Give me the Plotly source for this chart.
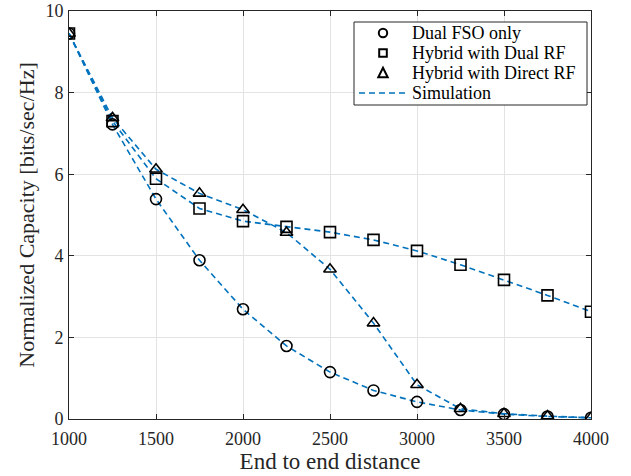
import plotly.graph_objects as go

# End-to-end distance (x) and normalized capacity for each scheme
distance = [1000, 1250, 1500, 1750, 2000, 2250, 2500, 2750, 3000, 3250, 3500, 3750, 4000]
dual_fso = [9.45, 7.22, 5.39, 3.89, 2.69, 1.79, 1.15, 0.70, 0.42, 0.22, 0.12, 0.06, 0.03]
hybrid_dual_rf = [9.45, 7.30, 5.89, 5.16, 4.85, 4.71, 4.58, 4.39, 4.12, 3.78, 3.41, 3.03, 2.63]
hybrid_direct_rf = [9.45, 7.38, 6.12, 5.53, 5.13, 4.57, 3.67, 2.35, 0.84, 0.25, 0.13, 0.07, 0.03]

x_ticks = [1000, 1500, 2000, 2500, 3000, 3500, 4000]
y_ticks = [0, 2, 4, 6, 8, 10]

series = [
    ("Dual FSO only", dual_fso, "circle-open"),
    ("Hybrid with Dual RF", hybrid_dual_rf, "square-open"),
    ("Hybrid with Direct RF", hybrid_direct_rf, "triangle-up-open"),
]
sim_label = "Simulation"

LINE_BLUE = "#0072BD"
AXIS_GREY = "#262626"
FONT = "Liberation Serif"

W, H = 631, 476
M_L, M_R, M_T, M_B = 69, 40, 11, 57
PLOT_W = W - M_L - M_R
PLOT_H = H - M_T - M_B

fig = go.Figure()

# simulation curves: dashed blue
for name, vals, sym in series:
    fig.add_trace(go.Scatter(
        x=distance, y=vals, mode="lines", name=sim_label, showlegend=False,
        line=dict(color=LINE_BLUE, width=1.6, dash="6px,4px"),
    ))

# analytical points: black open markers
for name, vals, sym in series:
    fig.add_trace(go.Scatter(
        x=distance, y=vals, mode="markers", name=name, showlegend=False,
        marker=dict(symbol=sym, size=11, color="black", line=dict(color="black", width=1.6)),
    ))


# ---- legend box, drawn in pixel units converted to paper coordinates ----
def px(xp):
    return (xp - M_L) / PLOT_W


def py(yp):
    return (M_T + PLOT_H - yp) / PLOT_H


box_left, box_right, box_top, box_bottom = 354, 587, 22, 105
row_y0, row_step = 33, 20
sym_x, sym_r = 383, 4.2
text_x = 410

shapes = [dict(type="rect", xref="paper", yref="paper",
               x0=px(box_left), x1=px(box_right), y0=py(box_bottom), y1=py(box_top),
               line=dict(color=AXIS_GREY, width=1), fillcolor="white", layer="above")]
annotations = []
labels = [s[0] for s in series] + [sim_label]
for i, label in enumerate(labels):
    yc = row_y0 + i * row_step
    annotations.append(dict(
        xref="paper", yref="paper", x=px(text_x), y=py(yc), xanchor="left", yanchor="middle",
        text=label, showarrow=False, font=dict(family=FONT, size=18, color="black"),
    ))
    sym_line = dict(color="black", width=2)
    if i == 0:
        shapes.append(dict(type="circle", xref="paper", yref="paper",
                           x0=px(sym_x - sym_r), x1=px(sym_x + sym_r),
                           y0=py(yc + sym_r), y1=py(yc - sym_r), line=sym_line, layer="above"))
    elif i == 1:
        shapes.append(dict(type="rect", xref="paper", yref="paper",
                           x0=px(sym_x - sym_r + 0.4), x1=px(sym_x + sym_r - 0.4),
                           y0=py(yc + sym_r - 0.4), y1=py(yc - sym_r + 0.4), line=sym_line, layer="above"))
    elif i == 2:
        tri = "M {:.5f},{:.5f} L {:.5f},{:.5f} L {:.5f},{:.5f} Z".format(
            px(sym_x - sym_r - 0.5), py(yc + sym_r), px(sym_x + sym_r + 0.5), py(yc + sym_r),
            px(sym_x), py(yc - sym_r - 1))
        shapes.append(dict(type="path", xref="paper", yref="paper", path=tri,
                           line=sym_line, layer="above"))
    else:
        shapes.append(dict(type="line", xref="paper", yref="paper",
                           x0=px(box_left + 5), x1=px(text_x - 4), y0=py(yc), y1=py(yc),
                           line=dict(color=LINE_BLUE, width=1.6, dash="6px,4px"), layer="above"))

axis_common = dict(
    showgrid=True, gridcolor="#e3e3e3", gridwidth=1,
    showline=True, linecolor=AXIS_GREY, linewidth=1, mirror="ticks",
    ticks="inside", ticklen=5, tickcolor=AXIS_GREY,
    tickfont=dict(family=FONT, size=18, color=AXIS_GREY),
    ticklabeloverflow="allow", automargin=False,
    zeroline=False,
)

fig.update_layout(
    width=W, height=H,
    margin=dict(l=M_L, r=M_R, t=M_T, b=M_B),
    paper_bgcolor="white", plot_bgcolor="white",
    font=dict(family=FONT, color=AXIS_GREY),
    xaxis=dict(
        range=[1000, 4000], tickvals=x_ticks, ticklabelstandoff=3,
        title=dict(text="End to end distance", font=dict(family=FONT, size=23), standoff=2),
        **axis_common,
    ),
    yaxis=dict(
        range=[0, 10], tickvals=y_ticks, ticklabelstandoff=1,
        title=dict(text="Normalized Capacity [bits/sec/Hz]", font=dict(family=FONT, size=22), standoff=4),
        **axis_common,
    ),
    shapes=shapes,
    annotations=annotations,
    showlegend=False,
)

fig.write_html("out.html")
